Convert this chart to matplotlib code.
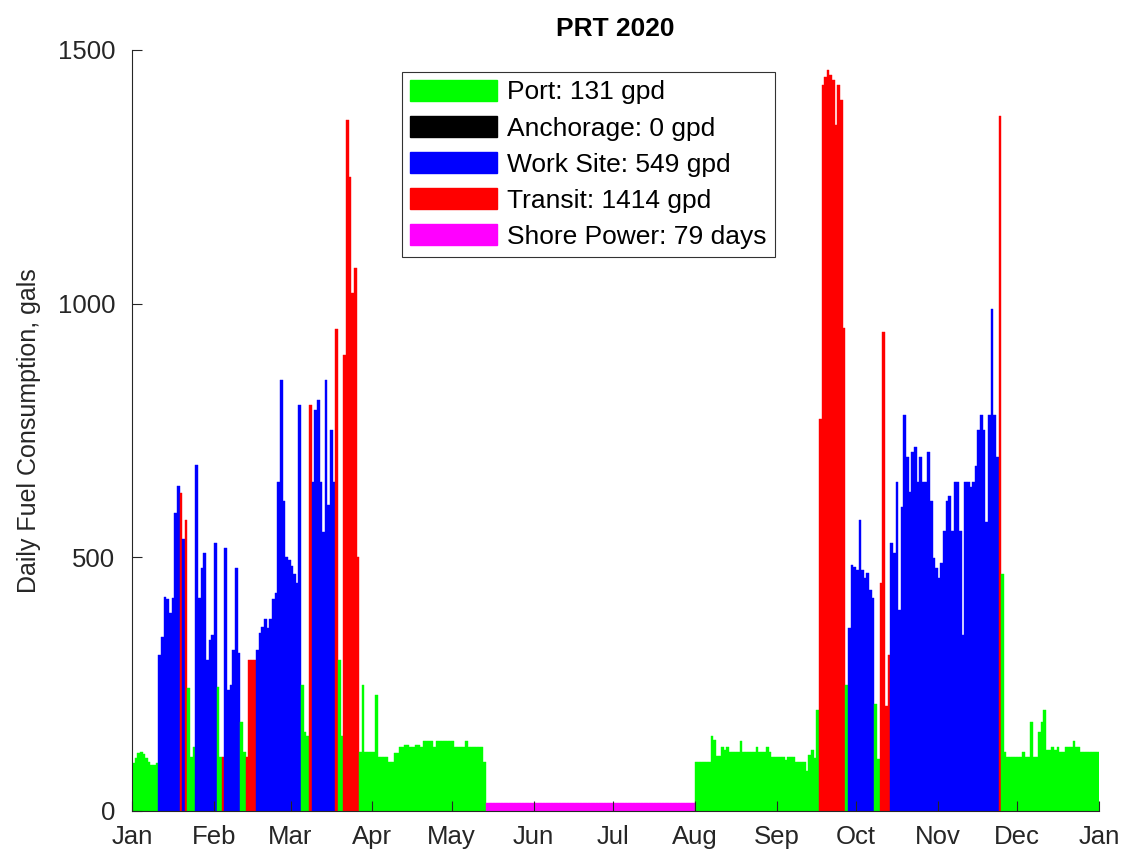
import numpy as np
import pandas as pd
import matplotlib
matplotlib.use('Agg')
from matplotlib import pyplot as plt
from matplotlib import dates as mdates
from matplotlib.patches import Patch

plt.rcParams['font.family'] = ['Liberation Sans', 'DejaVu Sans']

# daily fuel (gals) and operating mode per day, one list per month
# P = port, A = anchorage, W = work site, T = transit, S = shore power
jan_gal = [94, 104, 114, 117, 112, 105, 97, 91, 91, 94,
           307, 343, 422, 417, 390, 419, 587, 640, 626, 537,
           574, 242, 107, 127, 682, 419, 478, 508, 298, 337, 347]
jan_mode = "PPPPPPPPPP" + "WWWWWWWW" + "TWT" + "PPP" + "WWWWWWW"

feb_gal = [529, 245, 107, 107, 518, 238, 248, 317, 478, 311,
           176, 117, 107, 298, 298, 298, 317, 350, 363, 378,
           360, 378, 417, 429, 649, 850, 610, 501, 495]
feb_mode = "WPPTWWWWWWPPTTTT" + "WWWWWWWWWWWWW"

mar_gal = [482, 468, 449, 800, 248, 156, 147, 800, 649, 790,
           810, 649, 550, 850, 603, 751, 649, 950, 298, 147,
           899, 1362, 1250, 1020, 1070, 500, 117, 248, 117, 117, 117]
mar_mode = "WWWWPPPTWWWWWWWWWTPPTTTTTTPPPPP"

apr_gal = [117, 229, 107, 107, 107, 107, 97, 97, 114, 114,
           127, 127, 130, 130, 127, 127, 130, 130, 127, 137,
           137, 137, 137, 127, 137, 137, 137, 137, 137, 137]
apr_mode = "P" * 30

may_gal = [137, 127, 127, 127, 127, 137, 127, 127, 127, 127,
           127, 127, 97] + [15] * 18
may_mode = "P" * 13 + "S" * 18

jun_gal = [15] * 30
jun_mode = "S" * 30

jul_gal = [15] * 31
jul_mode = "S" * 31

aug_gal = [97, 97, 97, 97, 97, 97, 147, 140, 108, 108,
           127, 120, 127, 117, 117, 117, 117, 137, 117, 117,
           117, 117, 117, 127, 117, 117, 117, 127, 117, 107, 107]
aug_mode = "P" * 31

sep_gal = [107, 107, 107, 100, 107, 107, 107, 97, 97, 97,
           97, 78, 110, 120, 105, 200, 772, 1431, 1446, 1460,
           1450, 1440, 1353, 1431, 1402, 952, 249, 361, 484, 480]
sep_mode = "P" * 16 + "T" * 10 + "P" + "WWW"

oct_gal = [474, 573, 474, 459, 469, 435, 420, 210, 103, 449,
           945, 206, 307, 528, 508, 649, 396, 600, 780, 698,
           629, 708, 718, 649, 698, 649, 649, 708, 610, 498, 478]
oct_mode = "WWWWWWW" + "PP" + "TTTT" + "W" * 18

nov_gal = [459, 488, 551, 610, 620, 551, 649, 649, 551, 347,
           649, 649, 639, 649, 679, 751, 780, 751, 570, 780,
           990, 780, 698, 1370, 468, 117, 107, 107, 107, 107]
nov_mode = "W" * 23 + "T" + "P" * 6

dec_gal = [107, 107, 117, 107, 107, 176, 107, 107, 156, 176,
           199, 120, 120, 127, 120, 127, 117, 117, 127, 127,
           127, 137, 127, 127, 117, 117, 117, 117, 117, 117, 117]
dec_mode = "P" * 31

mode_names = ['Port: 131 gpd', 'Anchorage: 0 gpd', 'Work Site: 549 gpd',
              'Transit: 1414 gpd', 'Shore Power: 79 days']
mode_codes = ['P', 'A', 'W', 'T', 'S']
mode_colors = ['#00ff00', '#000000', '#0000ff', '#ff0000', '#ff00ff']

fuel = (jan_gal + feb_gal + mar_gal + apr_gal + may_gal + jun_gal +
        jul_gal + aug_gal + sep_gal + oct_gal + nov_gal + dec_gal)
modes = (jan_mode + feb_mode + mar_mode + apr_mode + may_mode + jun_mode +
         jul_mode + aug_mode + sep_mode + oct_mode + nov_mode + dec_mode)
days = pd.date_range('2020-01-01', periods=len(fuel), freq='D')

cmap = dict(zip(mode_codes, mode_colors))
bar_colors = [cmap[m] for m in modes]

fig = plt.figure(figsize=(11.29, 8.61), dpi=100)
ax = fig.add_axes([0.1169, 0.0581, 0.8565, 0.8839])

ax.bar(days, fuel, width=1.0, align='edge', color=bar_colors,
       edgecolor=bar_colors, linewidth=0.3)

txt = '#262626'
ax.set_xlim(pd.Timestamp('2020-01-01'), pd.Timestamp('2021-01-01'))
ax.set_ylim(0, 1500)
ax.set_yticks([0, 500, 1000, 1500])
ax.xaxis.set_major_locator(mdates.MonthLocator())
ax.xaxis.set_major_formatter(mdates.DateFormatter('%b'))
ax.tick_params(direction='in', length=7, width=0.8, colors=txt,
               labelsize=18.5)
ax.tick_params(axis='x', pad=10)
ax.tick_params(axis='y', pad=12)
for s in ['top', 'right']:
    ax.spines[s].set_visible(False)
for s in ['left', 'bottom']:
    ax.spines[s].set_color(txt)
    ax.spines[s].set_linewidth(0.8)

ax.set_ylabel('Daily Fuel Consumption, gals', fontsize=18, color=txt,
              labelpad=12)
ax.set_title('PRT 2020', fontsize=19, fontweight='bold', pad=10)

handles = [Patch(facecolor=c, edgecolor=c) for c in mode_colors]
leg = ax.legend(handles, mode_names, loc='upper left',
                bbox_to_anchor=(0.279, 0.971), fontsize=19,
                frameon=True, fancybox=False, borderpad=0.3,
                handlelength=3.3, handleheight=0.83, labelspacing=0.44,
                handletextpad=0.4, borderaxespad=0)
leg.get_frame().set_edgecolor('black')
leg.get_frame().set_linewidth(0.8)

fig.savefig('out.png', dpi=100)
